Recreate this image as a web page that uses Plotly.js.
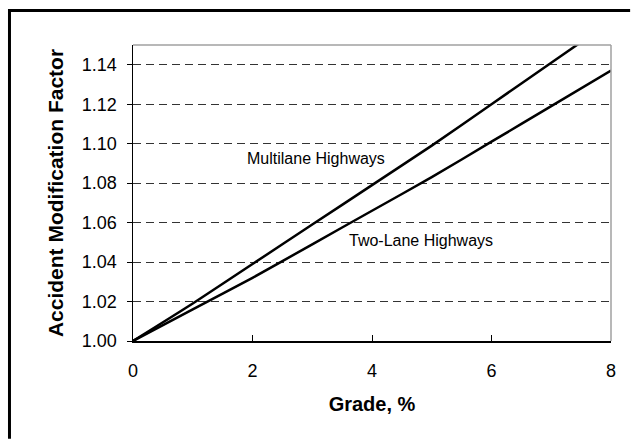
<!DOCTYPE html>
<html>
<head>
<meta charset="utf-8">
<script src="https://cdn.plot.ly/plotly-3.0.1.min.js"></script>
<style>
  html, body { margin: 0; padding: 0; background: #fff; overflow: hidden; }
  #chart { width: 631px; height: 439px; }
</style>
</head>
<body>
<div id="chart"></div>
<script>
// Data
const grade = [0, 1, 2, 3, 4, 5, 6, 7, 8];
const multilane = [1.000, 1.019, 1.039, 1.059, 1.079, 1.099, 1.120, 1.141, 1.162];
const twoLane = [1.000, 1.016, 1.032, 1.049, 1.066, 1.083, 1.101, 1.119, 1.137];
const seriesNames = ["Multilane Highways", "Two-Lane Highways"];
const labelPos = [[3.06, 1.0924], [4.82, 1.051]];
const xTicks = [0, 2, 4, 6, 8];
const yTicks = [1.00, 1.02, 1.04, 1.06, 1.08, 1.10, 1.12, 1.14];

const FONT = "Liberation Sans, Arial, sans-serif";

const traces = [
  { x: grade, y: multilane, name: seriesNames[0], mode: "lines",
    line: { color: "#000", width: 2.5, shape: "spline", smoothing: 0.6 } },
  { x: grade, y: twoLane, name: seriesNames[1], mode: "lines",
    line: { color: "#000", width: 2.5, shape: "spline", smoothing: 0.6 } }
];

const layout = {
  width: 631, height: 439,
  margin: { l: 133, r: 20, t: 45, b: 98 },
  paper_bgcolor: "#fff", plot_bgcolor: "#fff",
  showlegend: false,
  font: { family: FONT, color: "#000" },
  xaxis: {
    range: [0, 8], tickvals: xTicks, ticktext: xTicks.map(String),
    ticks: "inside", ticklen: 6, tickwidth: 1, tickcolor: "#000",
    showline: true, linecolor: "#000", linewidth: 1.5,
    showgrid: false, zeroline: false,
    tickfont: { size: 18, family: FONT },
    ticklabelstandoff: 13,
    title: { text: "<b>Grade, %</b>", font: { size: 20, family: FONT }, standoff: 17 }
  },
  yaxis: {
    range: [1.0, 1.15], tickvals: yTicks, ticktext: yTicks.map(v => v.toFixed(2)),
    ticks: "outside", ticklen: 5, tickwidth: 1, tickcolor: "#000",
    showline: true, linecolor: "#000", linewidth: 1.5,
    showgrid: true, gridcolor: "#333", gridwidth: 1, griddash: "8px,5px",
    zeroline: false,
    tickfont: { size: 18, family: FONT },
    ticklabelstandoff: 6,
    title: { text: "<b>Accident Modification Factor</b>", font: { size: 21, family: FONT }, standoff: 12 }
  },
  shapes: [
    // grey top and right border of plot area
    { type: "line", xref: "paper", yref: "paper", x0: 0, x1: 1, y0: 1, y1: 1,
      line: { color: "#a0a0a0", width: 1.5 } },
    { type: "line", xref: "paper", yref: "paper", x0: 1, x1: 1, y0: 0, y1: 1,
      line: { color: "#a0a0a0", width: 1.5 } },
    // outer chart frame: left edge and top edge (right/bottom fall outside the picture)
    { type: "line", xref: "paper", yref: "paper", x0: -0.2584, x1: -0.2584, y0: -0.33, y1: 1.1217,
      line: { color: "#000", width: 3 }, layer: "above" },
    { type: "line", xref: "paper", yref: "paper", x0: -0.2615, x1: 1.04, y0: 1.1166, y1: 1.1166,
      line: { color: "#000", width: 3 }, layer: "above" }
  ],
  annotations: [
    { x: labelPos[0][0], y: labelPos[0][1], xref: "x", yref: "y", text: seriesNames[0],
      showarrow: false, font: { size: 16, family: FONT, color: "#000" } },
    { x: labelPos[1][0], y: labelPos[1][1], xref: "x", yref: "y", text: seriesNames[1],
      showarrow: false, font: { size: 16, family: FONT, color: "#000" } }
  ]
};

Plotly.newPlot("chart", traces, layout, { staticPlot: true, displayModeBar: false });
</script>
</body>
</html>
